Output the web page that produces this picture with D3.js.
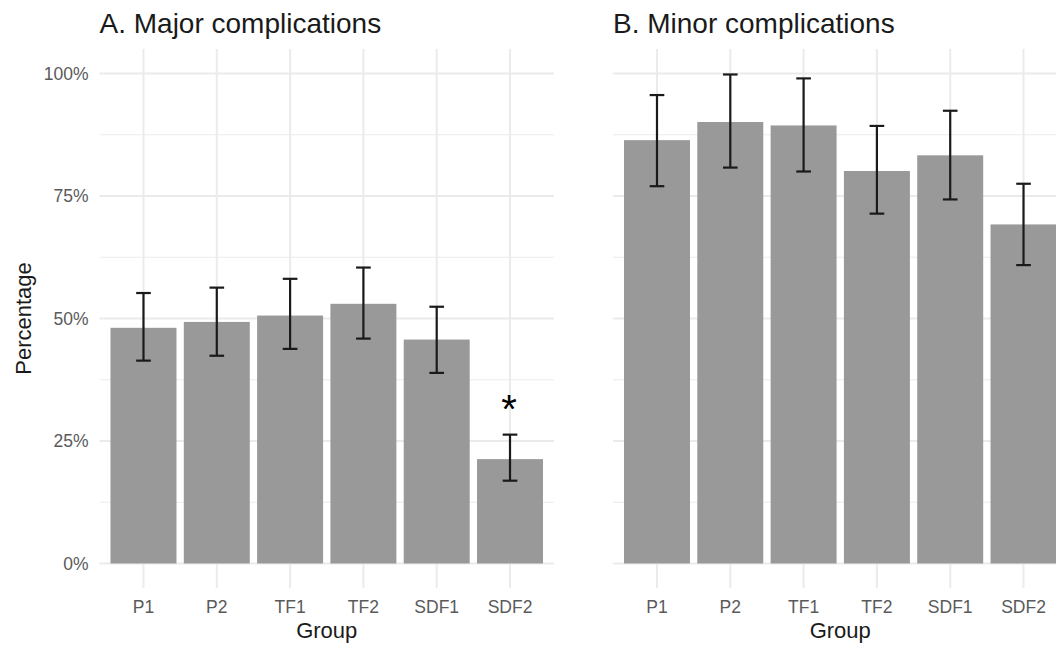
<!DOCTYPE html>
<html>
<head>
<meta charset="utf-8">
<script src="https://cdn.jsdelivr.net/npm/d3@7"></script>
<style>
  html, body { margin: 0; padding: 0; background: #fff; }
  svg { display: block; font-family: "Liberation Sans", Arial, Helvetica, sans-serif; }
</style>
</head>
<body>
<svg id="chart" width="1056" height="648"></svg>
<script>
// ---- data ----
const groups = ["P1", "P2", "TF1", "TF2", "SDF1", "SDF2"];
const panelTitles = ["A. Major complications", "B. Minor complications"];
const majorValues = [48.1, 49.3, 50.6, 53.0, 45.7, 21.3];
const majorLower  = [41.4, 42.4, 43.8, 45.9, 38.9, 16.9];
const majorUpper  = [55.2, 56.3, 58.1, 60.4, 52.4, 26.3];
const minorValues = [86.4, 90.1, 89.4, 80.1, 83.3, 69.2];
const minorLower  = [77.0, 80.8, 80.0, 71.4, 74.3, 60.9];
const minorUpper  = [95.6, 99.8, 99.0, 89.3, 92.4, 77.5];
const majorSignificant = ["SDF2"];
const minorSignificant = [];
const yTicks = [0, 25, 50, 75, 100];
const yMinorTicks = [12.5, 37.5, 62.5, 87.5];
const yTickLabels = ["0%", "25%", "50%", "75%", "100%"];
const xAxisTitle = "Group";
const yAxisTitle = "Percentage";

(function () {
const panels = [
  { title: panelTitles[0], values: majorValues, lower: majorLower, upper: majorUpper, sig: majorSignificant, left: 99.5, showY: true },
  { title: panelTitles[1], values: minorValues, lower: minorLower, upper: minorUpper, sig: minorSignificant, left: 613, showY: false }
];

const svg = d3.select("#chart");
const panelW = 454.5;
const pTop = 49, pBottom = 588;
const nBands = groups.length;
const unit = panelW / (nBands + 0.2); // ggplot discrete expansion of 0.6 on each side

const y = d3.scaleLinear().domain([-5, 105]).range([pBottom, pTop]);

panels.forEach(p => {
  const g = svg.append("g");
  const x = d3.scalePoint().domain(groups)
    .range([p.left + 0.6 * unit, p.left + panelW - 0.6 * unit]);

  // grid
  g.selectAll("line.ymin").data(yMinorTicks).join("line")
    .attr("x1", p.left).attr("x2", p.left + panelW)
    .attr("y1", d => y(d)).attr("y2", d => y(d))
    .attr("stroke", "#ebebeb").attr("stroke-width", 1);
  g.selectAll("line.ymaj").data(yTicks).join("line")
    .attr("x1", p.left).attr("x2", p.left + panelW)
    .attr("y1", d => y(d)).attr("y2", d => y(d))
    .attr("stroke", "#ebebeb").attr("stroke-width", 2);
  g.selectAll("line.xmaj").data(groups).join("line")
    .attr("x1", d => x(d)).attr("x2", d => x(d))
    .attr("y1", pTop).attr("y2", pBottom)
    .attr("stroke", "#ebebeb").attr("stroke-width", 2);

  // bars
  const bw = unit * 0.9;
  g.selectAll("rect.bar").data(groups).join("rect")
    .attr("x", d => x(d) - bw / 2)
    .attr("width", bw)
    .attr("y", (d, i) => y(p.values[i]))
    .attr("height", (d, i) => y(0) - y(p.values[i]))
    .attr("fill", "#999999");

  // error bars
  const cw = unit * 0.2;
  const eb = g.selectAll("g.err").data(groups).join("g");
  eb.append("line")
    .attr("x1", d => x(d)).attr("x2", d => x(d))
    .attr("y1", (d, i) => y(p.lower[i])).attr("y2", (d, i) => y(p.upper[i]))
    .attr("stroke", "#1a1a1a").attr("stroke-width", 2.2);
  eb.append("line")
    .attr("x1", d => x(d) - cw / 2).attr("x2", d => x(d) + cw / 2)
    .attr("y1", (d, i) => y(p.lower[i])).attr("y2", (d, i) => y(p.lower[i]))
    .attr("stroke", "#1a1a1a").attr("stroke-width", 2.2);
  eb.append("line")
    .attr("x1", d => x(d) - cw / 2).attr("x2", d => x(d) + cw / 2)
    .attr("y1", (d, i) => y(p.upper[i])).attr("y2", (d, i) => y(p.upper[i]))
    .attr("stroke", "#1a1a1a").attr("stroke-width", 2.2);

  // significance
  g.selectAll("text.sig").data(p.sig).join("text")
    .attr("x", d => x(d) - 1)
    .attr("y", d => y(p.upper[groups.indexOf(d)]) - 12)
    .attr("text-anchor", "middle")
    .attr("font-size", 40)
    .attr("fill", "#000")
    .text("*");

  // x axis labels
  g.selectAll("text.xt").data(groups).join("text")
    .attr("x", d => x(d)).attr("y", 613)
    .attr("text-anchor", "middle")
    .attr("font-size", 17.5).attr("fill", "#5a5a5a")
    .text(d => d);

  // x axis title
  g.append("text")
    .attr("x", p.left + panelW / 2).attr("y", 638)
    .attr("text-anchor", "middle").attr("font-size", 22).attr("fill", "#1a1a1a")
    .text(xAxisTitle);

  // title
  g.append("text")
    .attr("x", p.left).attr("y", 32.5)
    .attr("font-size", 28).attr("fill", "#1a1a1a")
    .text(p.title);

  if (p.showY) {
    g.selectAll("text.yt").data(yTicks).join("text")
      .attr("x", p.left - 11).attr("y", d => y(d))
      .attr("dy", "0.35em")
      .attr("text-anchor", "end")
      .attr("font-size", 17.5).attr("fill", "#5a5a5a")
      .text((d, i) => yTickLabels[i]);
    g.append("text")
      .attr("transform", `translate(31, ${y(50)}) rotate(-90)`)
      .attr("text-anchor", "middle").attr("font-size", 22).attr("fill", "#1a1a1a")
      .text(yAxisTitle);
  }
});
})();
</script>
</body>
</html>
